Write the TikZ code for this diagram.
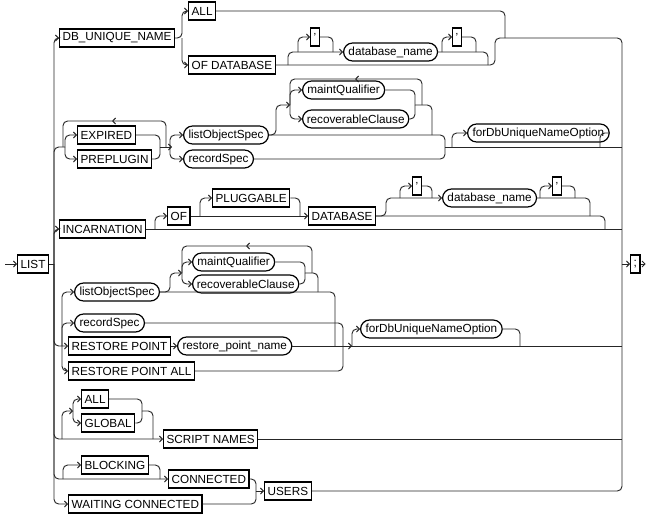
\documentclass[tikz,border=0pt]{standalone}
\usepackage{fontspec}
\setmainfont{Liberation Sans}
\usetikzlibrary{arrows.meta,shapes.misc}
\begin{document}
\begin{tikzpicture}[x=0.75pt,y=-0.75pt,
  kw/.style={draw,line width=0.9pt,rectangle,minimum height=13.5pt,inner xsep=2.3pt,inner ysep=0pt,anchor=west,font=\fontsize{8.8}{10}\selectfont},
  nt/.style={draw,line width=0.9pt,rounded rectangle,minimum height=13.5pt,inner xsep=2.3pt,inner ysep=0pt,anchor=west,font=\fontsize{8.8}{10}\selectfont},
  ln/.style={line width=0.7pt,draw=black!85,rounded corners=3.5pt},
  arr/.style={ln,-{Straight Barb[length=2.2pt,width=4.5pt]}}]
\useasboundingbox (0,0) rectangle (652,518);
% nodes
\node[kw] (list) at (17,264) {LIST};
\node[kw] (semi) at (630,264) {;};
\node[kw] (dbu) at (59,38) {DB\_UNIQUE\_NAME};
\node[kw] (all) at (188,11) {ALL};
\node[kw] (ofdb) at (188,65) {OF DATABASE};
\node[kw] (q1) at (310,37) {'};
\node[nt] (dbn) at (343,52) {database\_name};
\node[kw] (q2) at (452,37) {'};
\node[kw] (exp) at (77,135) {EXPIRED};
\node[kw] (prep) at (77,159) {PREPLUGIN};
\node[nt] (los) at (183,135) {listObjectSpec};
\node[nt] (rs) at (183,159) {recordSpec};
\node[nt] (mq) at (302,90) {maintQualifier};
\node[nt] (rcl) at (302,119) {recoverableClause};
\node[nt] (fd) at (467,133) {forDbUniqueNameOption};
\node[kw] (inc) at (59,229) {INCARNATION};
\node[kw] (of) at (167,216) {OF};
\node[kw] (plug) at (212,198) {PLUGGABLE};
\node[kw] (db) at (308,216) {DATABASE};
\node[kw] (q3) at (412,186) {'};
\node[nt] (dbn2) at (442,198) {database\_name};
\node[kw] (q4) at (552,186) {'};
\node[nt] (los2) at (74,292) {listObjectSpec};
\node[nt] (rs2) at (74,323) {recordSpec};
\node[nt] (mq2) at (192,262) {maintQualifier};
\node[nt] (rc2) at (192,284) {recoverableClause};
\node[kw] (rp) at (68,346) {RESTORE POINT};
\node[nt] (rpn) at (177,346) {restore\_point\_name};
\node[kw] (rpa) at (68,371) {RESTORE POINT ALL};
\node[nt] (fd2) at (360,329) {forDbUniqueNameOption};
\node[kw] (all2) at (81,399) {ALL};
\node[kw] (glob) at (81,423) {GLOBAL};
\node[kw] (sn) at (163,439) {SCRIPT NAMES};
\node[kw] (blk) at (81,465) {BLOCKING};
\node[kw] (con) at (168,479) {CONNECTED};
\node[kw] (wc) at (68,504) {WAITING CONNECTED};
\node[kw] (users) at (264,491) {USERS};
% entry / exit
\draw[arr] (5,264) -- (list.west);
\draw[ln] (list.east) -- (54,264);
\draw[arr] (622,264) -- (semi.west);
\draw[arr] (semi.east) -- ++(5,0);
% right rail
\draw[ln] (500,38) -| (622,264);
\draw[ln] (users.east) -| (622,264);
% row 1
\draw[arr] (54,264) |- (dbu.west);
\draw[arr] (dbu.east) -- (182,38) |- (all.west);
\draw[arr] (182,38) |- (ofdb.west);
\draw[ln] (all.east) -| (505,38);
\draw[ln] (ofdb.east) -| (495,38) -- (500,38);
\draw[arr] (288,65) |- (dbn.west);
\draw[arr] (298,52) |- (q1.west);
\draw[ln] (q1.east) -| (333,52);
\draw[ln] (dbn.east) -| (488,65);
\draw[arr] (442,52) |- (q2.west);
\draw[ln] (q2.east) -| (476,52);
% row 2
\draw[ln] (54,264) |- (65,147);
\draw[arr] (160,147) -- (172,147);
\draw[arr] (65,147) |- (exp.west);
\draw[arr] (65,147) |- (prep.west);
\draw[ln] (exp.east) -| (160,147);
\draw[ln] (prep.east) -| (160,147);
\draw[arr] (166,147) |- (112,121);
\draw[ln] (112,121) -| (63,147);
\draw[arr] (170,147) |- (los.west);
\draw[arr] (170,147) |- (rs.west);
\draw[arr] (los.east) -- (276,135) |- (290,105);
\draw[arr] (290,105) |- (mq.west);
\draw[arr] (290,105) |- (rcl.west);
\draw[ln] (mq.east) -| (415,105);
\draw[ln] (rcl.east) -| (415,105);
\draw[arr] (422,105) |- (355,79);
\draw[ln] (355,79) -| (290,105);
\draw[ln] (415,105) -| (432,135);
\draw[ln] (los.east) -| (445,147);
\draw[ln] (rs.east) -| (445,147);
\draw[ln] (445,147) -- (622,147);
\draw[arr] (452,147) |- (fd.west);
\draw[ln] (fd.east) -| (600,147);
% row 3
\draw[arr] (54,264) |- (inc.west);
\draw[ln] (inc.east) -- (622,229);
\draw[arr] (155,229) |- (of.west);
\draw[arr] (of.east) -- (db.west);
\draw[arr] (200,216) |- (plug.west);
\draw[ln] (plug.east) -| (300,216);
\draw[arr] (db.east) -- (386,216) |- (dbn2.west);
\draw[arr] (400,198) |- (q3.west);
\draw[ln] (q3.east) -| (432,198);
\draw[ln] (db.east) -| (605,229);
\draw[ln] (dbn2.east) -| (590,216);
\draw[arr] (540,198) |- (q4.west);
\draw[ln] (q4.east) -| (575,198);
% row 4
\draw[arr] (54,264) |- (rp.west);
\draw[arr] (rp.east) -- (rpn.west);
\draw[ln] (rpn.east) -- (622,346);
\draw[arr] (62,346) |- (los2.west);
\draw[arr] (62,346) |- (rs2.west);
\draw[arr] (62,346) |- (rpa.west);
\draw[arr] (los2.east) -- (170,292) |- (182,273);
\draw[arr] (182,273) |- (mq2.west);
\draw[arr] (182,273) |- (rc2.west);
\draw[ln] (mq2.east) -| (305,273);
\draw[ln] (rc2.east) -| (305,273);
\draw[arr] (312,273) |- (246,246);
\draw[ln] (246,246) -| (182,273);
\draw[ln] (305,273) -| (318,292);
\draw[ln] (los2.east) -| (335,346);
\draw[ln] (rs2.east) -| (343,346);
\draw[ln] (rpa.east) -| (343,346);
\draw[arr] (343,346) -- (352,346);
\draw[arr] (352,346) |- (fd2.west);
\draw[ln] (fd2.east) -| (520,346);
% row 5
\draw[arr] (54,264) |- (sn.west);
\draw[arr] (62,439) |- (73,411);
\draw[arr] (73,411) |- (all2.west);
\draw[arr] (73,411) |- (glob.west);
\draw[ln] (all2.east) -| (142,411);
\draw[ln] (glob.east) -| (142,411);
\draw[ln] (142,411) -| (153,439);
\draw[ln] (sn.east) -- (622,439);
% row 6
\draw[arr] (54,264) |- (con.west);
\draw[arr] (54,264) |- (wc.west);
\draw[arr] (63,479) |- (blk.west);
\draw[ln] (blk.east) -| (160,479);
\draw[ln] (con.east) -| (256,491);
\draw[ln] (wc.east) -| (256,491);
\draw[arr] (256,491) -- (users.west);
\end{tikzpicture}
\end{document}
